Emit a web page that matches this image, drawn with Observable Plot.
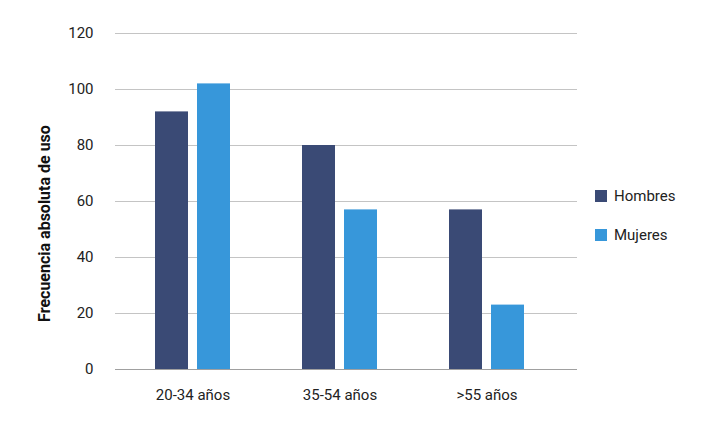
<!DOCTYPE html>
<html>
<head>
<meta charset="utf-8">
<script src="https://cdn.jsdelivr.net/npm/d3@7"></script>
<script src="https://cdn.jsdelivr.net/npm/@observablehq/plot@0.6"></script>
<style>
  body { margin: 0; background: #fff; }
  #wrap { position: relative; width: 720px; height: 421px; font-family: Roboto, "Open Sans", sans-serif; }
  .legend { position: absolute; left: 595px; font-size: 15px; color: #222; display: flex; align-items: center; line-height: 18px; }
  .legend span.sw { display: inline-block; width: 12px; height: 12px; margin-right: 7px; }
</style>
</head>
<body>
<div id="wrap"></div>
<script>
const groups = ["20-34 años", "35-54 años", ">55 años"];
const series = ["Hombres", "Mujeres"];
const hombres = [92, 80, 57];
const mujeres = [102, 57, 23];
const colors = ["#3a4a75", "#3797da"];
const yTicks = [0, 20, 40, 60, 80, 100, 120];
const yLabel = "Frecuencia absoluta de uso";

const dataH = groups.map((g, i) => ({group: g, sex: series[0], value: hombres[i]}));
const dataM = groups.map((g, i) => ({group: g, sex: series[1], value: mujeres[i]}));

const chart = Plot.plot({
  width: 720,
  height: 421,
  marginLeft: 115,
  marginRight: 143,
  marginTop: 33,
  marginBottom: 52,
  style: {fontFamily: "Roboto, sans-serif", fontSize: "15px", color: "#222", background: "#fff"},
  x: {domain: groups, range: [118, 560], padding: 0, label: null, tickSize: 0, tickPadding: 20},
  y: {domain: [0, 120], ticks: yTicks, tickSize: 0, tickPadding: 22, label: null},
  color: {domain: series, range: colors},
  marks: [
    Plot.gridY(yTicks.filter(d => d > 0), {stroke: "#c4c4c4", strokeOpacity: 1, strokeWidth: 1}),
    Plot.barY(dataH, {x: "group", y: "value", fill: "sex", insetLeft: 57, insetRight: 57, dx: -21}),
    Plot.barY(dataM, {x: "group", y: "value", fill: "sex", insetLeft: 57, insetRight: 57, dx: 21}),
    Plot.ruleY([0], {stroke: "#a0a0a0", strokeWidth: 1}),
    Plot.text([yLabel], {frameAnchor: "left", textAnchor: "middle", dx: -71, dy: 22, rotate: -90, fontWeight: "bold", fontSize: 16, fill: "#111"})
  ]
});
const wrap = document.getElementById("wrap");
wrap.appendChild(chart);

series.forEach((s, i) => {
  const d = document.createElement("div");
  d.className = "legend";
  d.style.top = (i === 0 ? 187 : 226) + "px";
  d.innerHTML = `<span class="sw" style="background:${colors[i]}"></span>${s}`;
  wrap.appendChild(d);
});
</script>
</body>
</html>
